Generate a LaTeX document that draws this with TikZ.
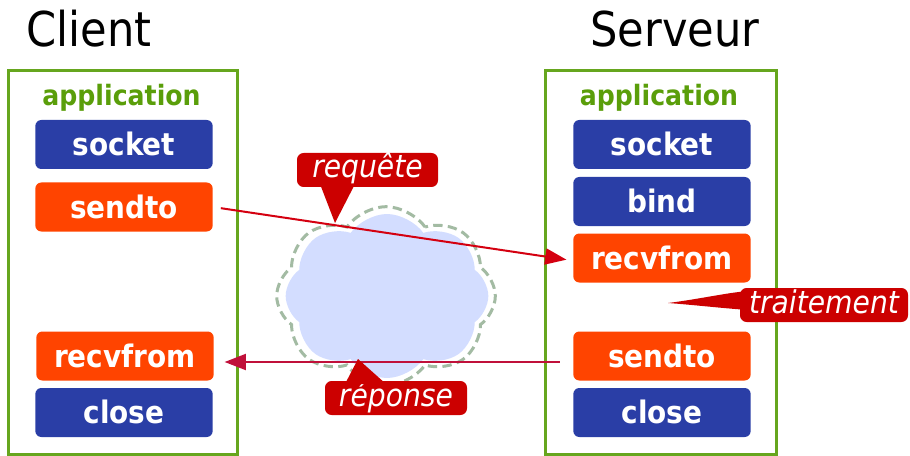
\documentclass[tikz,border=0pt]{standalone}
\usepackage{fontspec}
\setmainfont{DejaVu Sans}
\newfontfamily\tfont[FakeStretch=0.9]{DejaVu Sans}
\usetikzlibrary{shapes.symbols,arrows.meta}
\definecolor{boxgreen}{HTML}{66A61E}
\definecolor{appgreen}{HTML}{5A9E0A}
\definecolor{sockblue}{HTML}{2A3EA6}
\definecolor{sendorange}{HTML}{FF4400}
\definecolor{bubred}{HTML}{CC0000}
\definecolor{reqred}{HTML}{D40010}
\definecolor{resred}{HTML}{C0103A}
\definecolor{cloudfill}{HTML}{D3DDFF}
\definecolor{cloudline}{HTML}{A3BBA3}
\begin{document}
\begin{tikzpicture}[x=0.75pt,y=-0.75pt,
  title/.style={font=\tfont\fontsize{36}{40}\selectfont, anchor=base west, inner sep=0pt},
  appl/.style={font=\tfont\bfseries\fontsize{21}{24}\selectfont, text=appgreen, inner sep=0pt},
  host/.style={draw=boxgreen, line width=2.25pt},
  callbox/.style={rounded corners=4.5pt, minimum width=133pt, minimum height=36.75pt,
    text=white, font=\tfont\bfseries\fontsize{23.25}{26}\selectfont,
    text height=17pt, text depth=0pt, inner sep=0pt},
  bluebox/.style={callbox, fill=sockblue},
  orangebox/.style={callbox, fill=sendorange},
  bubble/.style={fill=bubred, rounded corners=5pt, minimum height=25.5pt, text=white,
    font=\tfont\itshape\fontsize{23.5}{26}\selectfont, inner sep=0pt,
    text height=17pt, text depth=5pt},
  bubtail/.style={fill=bubred},
  msg/.style={line width=1.5pt, -{Triangle[length=16pt,width=12pt]}},
  netcloud/.style={cloud, cloud puffs=8, cloud puff arc=110, inner sep=0pt}
]
\useasboundingbox (0,0) rectangle (910,456);

% titles
\node[title] (tclient) at (26,47) {Client};
\node[title] (tserver) at (590,47) {Serveur};

% host frames
\draw[host] (8,71) rectangle (237,454);
\draw[host] (545,71) rectangle (776,454);
\node[appl] (appc) at (121.5,98) {application};
\node[appl] (apps) at (659,98) {application};

% cloud
\node[netcloud, draw=cloudline, dash pattern=on 7pt off 4pt, line width=2.25pt, fill=white,
  minimum width=164pt, minimum height=134pt] (cloudo) at (386,296) {};
\node[netcloud, fill=cloudfill, minimum width=152pt, minimum height=123pt] (cloudi) at (387,296) {};

% client calls
\node[bluebox] (csock) at (124,144.5) {socket};
\node[orangebox] (csend) at (124,207) {sendto};
\node[orangebox] (crecv) at (125,356) {recvfrom};
\node[bluebox] (cclose) at (124,412.5) {close};

% server calls
\node[bluebox] (ssock) at (662,144.5) {socket};
\node[bluebox] (sbind) at (662,201.5) {bind};
\node[orangebox] (srecv) at (662,258) {recvfrom};
\node[orangebox] (ssend) at (662,356) {sendto};
\node[bluebox] (sclose) at (662,412.5) {close};

% messages
\draw[msg, draw=reqred, fill=reqred, shorten <=6pt, shorten >=5pt]
  ([yshift=0pt]csend.east) -- ([yshift=-2pt]srecv.west);
\draw[msg, draw=resred, fill=resred, shorten <=10pt, shorten >=8pt]
  ([yshift=-4.5pt]ssend.west) -- ([yshift=-4.5pt]crecv.east);

% callouts
\node[bubble, minimum width=105.75pt] (breq) at (367.5,170) {requête};
\coordinate (treq) at (335,223);
\fill[bubtail] (320,184) -- (355,184) -- (treq) -- cycle;

\node[bubble, minimum width=106.5pt] (bres) at (396,398) {réponse};
\coordinate (tres) at (358,359);
\fill[bubtail] (345,384) -- (386,384) -- (tres) -- cycle;

\node[bubble, minimum width=126pt] (btrt) at (824,305) {traitement};
\coordinate (ttrt) at (668,303);
\fill[bubtail] (ttrt) .. controls (700,299) and (725,293) .. (748,291) -- (748,310) .. controls (720,308) and (695,305) .. (ttrt) -- cycle;
\end{tikzpicture}
\end{document}
